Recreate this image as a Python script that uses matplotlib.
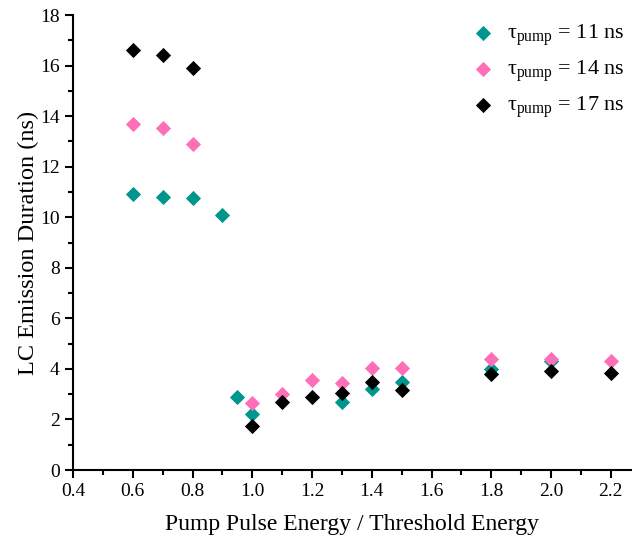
import matplotlib
matplotlib.use("Agg")
import matplotlib.pyplot as plt
from matplotlib.ticker import MultipleLocator

plt.rcParams["font.family"] = ["Liberation Serif", "DejaVu Serif"]
plt.rcParams["mathtext.fontset"] = "custom"
plt.rcParams["mathtext.rm"] = "Liberation Serif"

# Emission duration vs normalized pump energy, for three pump pulse lengths
x_11 = [0.6, 0.7, 0.8, 0.9, 0.95, 1.0, 1.3, 1.4, 1.5, 1.8, 2.0]
y_11 = [10.9, 10.8, 10.75, 10.1, 2.9, 2.2, 2.7, 3.2, 3.5, 4.0, 4.3]

x_14 = [0.6, 0.7, 0.8, 1.0, 1.1, 1.2, 1.3, 1.4, 1.5, 1.8, 2.0, 2.2]
y_14 = [13.7, 13.55, 12.9, 2.65, 3.0, 3.55, 3.45, 4.05, 4.05, 4.4, 4.4, 4.3]

x_17 = [0.6, 0.7, 0.8, 1.0, 1.1, 1.2, 1.3, 1.4, 1.5, 1.8, 2.0, 2.2]
y_17 = [16.6, 16.4, 15.9, 1.75, 2.7, 2.9, 3.05, 3.5, 3.15, 3.8, 3.9, 3.85]

labels = ["τ$_{\\mathrm{pump}}$ = 11 ns",
          "τ$_{\\mathrm{pump}}$ = 14 ns",
          "τ$_{\\mathrm{pump}}$ = 17 ns"]
colors = ["#00968f", "#ff6eb8", "#000000"]

fig = plt.figure(figsize=(6.32, 5.48), dpi=100)
ax = fig.add_axes([0.1155, 0.1423, 0.884, 0.8303])

for xs, ys, c, lab in zip([x_11, x_14, x_17], [y_11, y_14, y_17], colors, labels):
    ax.scatter(xs, ys, marker="D", s=60, color=c, label=lab, linewidths=0, zorder=3)

ax.set_xlim(0.4, 2.27)
ax.set_ylim(0, 18)
ax.xaxis.set_major_locator(MultipleLocator(0.2))
ax.xaxis.set_minor_locator(MultipleLocator(0.1))
ax.yaxis.set_major_locator(MultipleLocator(2))
ax.yaxis.set_minor_locator(MultipleLocator(1))
ax.xaxis.set_major_formatter(plt.FuncFormatter(lambda v, p: f"{v:.1f}"))

for s in ["top", "right"]:
    ax.spines[s].set_visible(False)
for s in ["left", "bottom"]:
    ax.spines[s].set_linewidth(1.5)
ax.tick_params(which="major", direction="out", length=6, width=1.5, labelsize=14)
ax.tick_params(which="minor", direction="out", length=3.5, width=1.5)

ax.set_xlabel("Pump Pulse Energy / Threshold Energy", fontsize=17, labelpad=10)
ax.set_ylabel("LC Emission Duration (ns)", fontsize=17.5, labelpad=1)

ax.legend(loc="upper right", frameon=False, fontsize=16, handlelength=1.0,
          handletextpad=0.6, labelspacing=0.45, borderaxespad=0.0, borderpad=0.3,
          scatterpoints=1, bbox_to_anchor=(1.0, 0.998))

fig.savefig("out.png", dpi=100)
